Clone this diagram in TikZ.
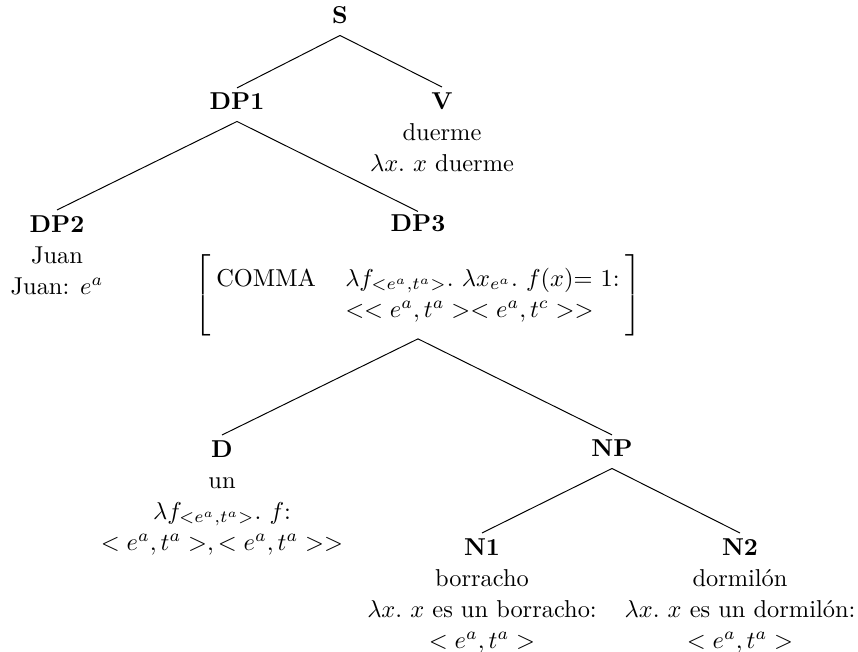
\documentclass[tikz,border=0pt]{standalone}
\usepackage{fontspec}
\usepackage{graphicx}
\newcommand{\mylbrk}{\vcenter{\hbox{\scalebox{1}[0.92]{$\left[\vcenter{\hbox{\rule{0pt}{36pt}}}\right.$}}}}
\newcommand{\myrbrk}{\vcenter{\hbox{\scalebox{1}[0.92]{$\left.\vcenter{\hbox{\rule{0pt}{36pt}}}\right]$}}}}
\begin{document}
\begin{tikzpicture}[x=0.4098pt,y=-0.4098pt,
  every node/.style={font=\fontsize{10}{12.7}\selectfont, inner sep=2pt, align=center},
  cat/.style={text depth=2.5pt},
  branch/.style={line width=0.4pt}]
\useasboundingbox (0,0) rectangle (858,652);
% nodes
\node[cat, anchor=base] (s) at (340,24) {\textbf{S}};
\node[cat, anchor=base] (dp1) at (237,110) {\textbf{DP1}};
\node[anchor=north] (v) at (442,87) {\textbf{V}\\duerme\\$\lambda x.\ x$ duerme};
\node[anchor=north] (dp2) at (57,210) {\textbf{DP2}\\Juan\\Juan: $e^a$};
\node[anchor=north, inner ysep=1pt] (dp3) at (418,211.5) {\textbf{DP3}\\[8.7pt]
  $\mylbrk\begin{array}{@{\hspace{1pt}}l@{\hspace{12pt}}l@{\hspace{1pt}}}
  \mbox{COMMA} & \lambda f_{<e^a,t^a>}.\ \lambda x_{e^a}.\ f(x)\mbox{= 1:}\\
   & <<e^a,t^a><e^a,t^c>>
  \end{array}\myrbrk$};
\node[anchor=north] (d) at (222,435) {\textbf{D}\\un\\$\lambda f_{<e^a,t^a>}.\ f$:\\$<e^a,t^a>,<e^a,t^a>>$};
\node[cat, anchor=base] (np) at (612,457) {\textbf{NP}};
\node[anchor=north] (n1) at (482,533) {\textbf{N1}\\borracho\\$\lambda x.\ x$ es un borracho:\\$<e^a,t^a>$};
\node[anchor=north] (n2) at (740,533) {\textbf{N2}\\dormilón\\$\lambda x.\ x$ es un dormilón:\\$<e^a,t^a>$};
% branches
\draw[branch] (s.south) -- (dp1.north);
\draw[branch] (s.south) -- (v.north);
\draw[branch] (dp1.south) -- (dp2.north);
\draw[branch] (dp1.south) -- (dp3.north);
\draw[branch] (dp3.south) -- (d.north);
\draw[branch] (dp3.south) -- (np.north);
\draw[branch] (np.south) -- (n1.north);
\draw[branch] (np.south) -- (n2.north);
\end{tikzpicture}
\end{document}
